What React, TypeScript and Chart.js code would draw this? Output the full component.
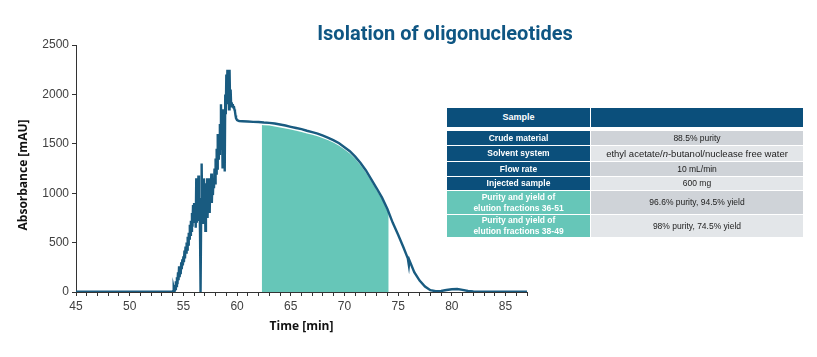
import React, { useEffect, useRef } from "react";
import { Chart, registerables } from "chart.js";

Chart.register(...registerables);

// Time axis (min) and absorbance (mAU) of the chromatogram trace
const timeMin: number[] = [
  45, 46, 47, 48, 49, 50, 51, 52, 53, 53.5, 54.0,
  54.05, 54.10, 54.15, 54.20, 54.25, 54.30, 54.35, 54.40, 54.45, 54.50,
  54.55, 54.60, 54.65, 54.70, 54.75, 54.80, 54.85, 54.90, 54.95, 55.00,
  55.05, 55.10, 55.15, 55.20, 55.25, 55.30, 55.35, 55.40, 55.45, 55.50,
  55.55, 55.60, 55.65, 55.70, 55.75, 55.80, 55.85, 55.90, 55.95, 56.00,
  56.05, 56.10, 56.15, 56.20, 56.25, 56.30, 56.35, 56.40, 56.45, 56.50,
  56.55, 56.60, 56.65, 56.70, 56.75, 56.80, 56.85, 56.90, 56.95, 57.00,
  57.05, 57.10, 57.15, 57.20, 57.25, 57.30, 57.35, 57.40, 57.45, 57.50,
  57.55, 57.60, 57.65, 57.70, 57.75, 57.80, 57.85, 57.90, 57.95, 58.00,
  58.05, 58.10, 58.15, 58.20, 58.25, 58.30, 58.35, 58.40, 58.45, 58.50,
  58.55, 58.60, 58.65, 58.70, 58.75, 58.80, 58.85, 58.90, 58.95, 59.00,
  59.05, 59.10, 59.15, 59.20, 59.25, 59.30, 59.35, 59.40, 59.45, 59.50,
  59.55, 59.60, 59.65, 59.70, 59.75, 59.80, 59.85, 59.90, 59.95, 60.00,
  60.10, 60.20, 60.50, 61.0, 61.5, 62.0, 62.5, 63.0, 63.5, 64.0,
  64.5, 65.0, 65.5, 66.0, 66.5, 67.0, 67.5, 68.0, 68.5, 69.0,
  69.5, 70.0, 70.5, 71.0, 71.5, 72.0, 72.5, 73.0, 73.5, 74.0,
  74.5, 75.0, 75.5, 75.9, 76.0, 76.05, 76.5, 77.0, 77.5, 78.0,
  78.5, 79.0, 79.5, 80.0, 80.5, 81.0, 81.5, 82.0, 83, 84, 85, 86, 87,
];

const absorbance: number[] = [
  4, 4, 4, 4, 4, 4, 4, 4, 4, 4, 5,
  10, 40, 15, 70, 30, 110, 60, 150, 80, 200,
  120, 260, 150, 240, 180, 300, 230, 330, 270, 360,
  300, 420, 340, 460, 400, 500, 430, 560, 480, 600,
  540, 680, 580, 720, 620, 800, 660, 880, 700, 900,
  780, 900, 650, 1150, 700, 1000, 800, 1180, 720, 950,
  600, 0, 700, 1300, 850, 1100, 700, 1150, 800, 1050,
  620, 1100, 850, 1150, 750, 1000, 900, 1150, 800, 1100,
  950, 1200, 900, 1100, 980, 1150, 1050, 1250, 1100, 1350,
  1200, 1450, 1250, 1600, 1350, 1550, 1400, 1700, 1450, 1900,
  1600, 1750, 1250, 1850, 1500, 1700, 1220, 2000, 1800, 2200,
  1950, 2250, 1900, 2150, 1850, 2250, 1900, 2050, 1880, 1920,
  1880, 1900, 1870, 1880, 1850, 1830, 1790, 1760, 1750, 1740,
  1735, 1730, 1728, 1725, 1722, 1720, 1715, 1712, 1705, 1695,
  1685, 1672, 1660, 1648, 1632, 1618, 1603, 1582, 1560, 1535,
  1505, 1465, 1425, 1370, 1305, 1230, 1140, 1050, 955, 840,
  700, 580, 450, 340, 270, 320, 200, 115, 55, 18,
  8, 10, 20, 28, 30, 22, 10, 5, 4, 4, 4, 4, 4,
];

// Collected fraction region (highlighted area)
const fractionTime: number[] = [
  62.3, 62.5, 63.0, 63.5, 64.0, 64.5, 65.0, 65.5, 66.0, 66.5,
  67.0, 67.5, 68.0, 68.5, 69.0, 69.5, 70.0, 70.5, 71.0, 71.5,
  72.0, 72.5, 73.0, 73.5, 74.0, 74.12,
];
const fractionAbs: number[] = [
  1690, 1688, 1684, 1676, 1666, 1656, 1644, 1632, 1620, 1605,
  1591, 1576, 1556, 1535, 1510, 1481, 1442, 1402, 1348, 1283,
  1208, 1120, 1030, 935, 820, 790,
];

const xTickMin = 45;
const xTickMax = 87;
const yTickMax = 2500;
const yTickStep = 500;

const titleText = "Isolation of oligonucleotides";
const xTitle = "Time [min]";
const yTitle = "Absorbance [mAU]";

const tableHeader = ["Sample", ""];
const tableLabels = [
  "Crude material",
  "Solvent system",
  "Flow rate",
  "Injected sample",
  "Purity and yield of\nelution fractions 36-51",
  "Purity and yield of\nelution fractions 38-49",
];
const tableValues = [
  "88.5% purity",
  "ethyl acetate/n-butanol/nuclease free water",
  "10 mL/min",
  "600 mg",
  "96.6% purity, 94.5% yield",
  "98% purity, 74.5% yield",
];

const DARK = "#0b4f7b";
const TEAL = "#66c6b8";

function ChartCanvas() {
  const ref = useRef<HTMLCanvasElement | null>(null);
  useEffect(() => {
    if (!ref.current) return;
    const line = timeMin.map((t, i) => ({ x: t, y: absorbance[i] }));
    const frac = fractionTime.map((t, i) => ({ x: t, y: fractionAbs[i] }));
    const chart = new Chart(ref.current, {
      type: "line",
      data: {
        datasets: [
          {
            data: line,
            borderColor: "#195b80",
            borderWidth: 2.4,
            pointRadius: 0,
            fill: false,
            tension: 0,
            order: 0,
          },
          {
            data: frac,
            borderWidth: 0,
            borderColor: "rgba(0,0,0,0)",
            backgroundColor: TEAL,
            pointRadius: 0,
            fill: "origin",
            tension: 0,
            order: 1,
          },
        ],
      },
      options: {
        animation: false,
        responsive: false,
        maintainAspectRatio: false,
        layout: { padding: { left: 12, right: 290, top: 45, bottom: 19 } },
        plugins: { legend: { display: false }, tooltip: { enabled: false }, title: { display: false } },
        scales: {
          x: {
            type: "linear",
            min: xTickMin,
            max: xTickMax,
            grid: { drawOnChartArea: false, drawTicks: true, tickLength: 4, color: "#333" },
            border: { color: "#333", width: 1 },
            ticks: {
              stepSize: 1,
              autoSkip: false,
              maxRotation: 0,
              color: "#404040",
              font: { family: "Liberation Sans, Arial", size: 12 },
              callback: (v: any) => (Number(v) % 5 === 0 ? String(v) : ""),
            },
            title: {
              display: true,
              text: xTitle,
              color: "#111",
              font: { family: "Open Sans", size: 12, weight: "bold" },
              padding: { top: 4, bottom: 4 },
            },
            afterFit: (s: any) => {
              s.height = 46;
            },
          },
          y: {
            type: "linear",
            min: 0,
            max: yTickMax,
            grid: { drawOnChartArea: false, drawTicks: true, tickLength: 4, color: "#333" },
            border: { color: "#333", width: 1 },
            ticks: {
              stepSize: yTickStep,
              color: "#404040",
              font: { family: "Liberation Sans, Arial", size: 12 },
              callback: (v: any) => String(v),
            },
            title: { display: false },
            afterFit: (s: any) => {
              s.width = 64;
            },
          },
        },
      },
    });
    return () => chart.destroy();
  }, []);
  return <canvas ref={ref} width={817} height={357} style={{ position: "absolute", left: 0, top: 0, width: 817, height: 357 }} />;
}

function InfoTable() {
  const left = 447;
  const leftW = 143;
  const rightX = 591;
  const rightW = 212;
  const headerTop = 108;
  const headerH = 19;
  const rowTops = [131, 146, 162, 177, 191, 215];
  const rowHs = [14, 15, 14, 13, 23, 22];
  const rightBg = ["#cfd3d8", "#e3e6e9", "#cfd3d8", "#e3e6e9", "#cfd3d8", "#e3e6e9"];
  const cell = (x: number, y: number, w: number, h: number, bg: string): React.CSSProperties => ({
    position: "absolute",
    left: x,
    top: y,
    width: w,
    height: h,
    background: bg,
    display: "flex",
    alignItems: "center",
    justifyContent: "center",
    textAlign: "center",
    whiteSpace: "pre",
    lineHeight: "11px",
  });
  return (
    <>
      <div style={{ ...cell(left, headerTop, leftW, headerH, DARK), color: "#fff", fontWeight: 700, fontSize: 9, fontFamily: "Liberation Sans, Arial" }}>
        {tableHeader[0]}
      </div>
      <div style={{ ...cell(rightX, headerTop, rightW, headerH, DARK), color: "#fff" }}>{tableHeader[1]}</div>
      {tableLabels.map((lab, i) => (
        <React.Fragment key={i}>
          <div
            style={{
              ...cell(left, rowTops[i], leftW, rowHs[i], i >= 4 ? TEAL : DARK),
              color: "#fff",
              fontWeight: 700,
              fontSize: 8.5,
              fontFamily: "Liberation Sans, Arial",
            }}
          >
            {lab}
          </div>
          <div
            style={{
              ...cell(rightX, rowTops[i], rightW, rowHs[i], rightBg[i]),
              color: "#222",
              fontSize: i === 1 ? 9.5 : 8.5,
              fontFamily: "Liberation Sans, Arial",
            }}
          >
            {i === 1 ? (
              <span>
                ethyl acetate/<i>n</i>-butanol/nuclease free water
              </span>
            ) : (
              tableValues[i]
            )}
          </div>
        </React.Fragment>
      ))}
    </>
  );
}

export default function App() {
  return (
    <div style={{ position: "fixed", left: 0, top: 0, width: 817, height: 357, background: "#fff", overflow: "hidden" }}>
      <ChartCanvas />
      <div
        style={{
          position: "absolute",
          left: 245,
          width: 400,
          top: 21,
          textAlign: "center",
          fontFamily: "Roboto",
          fontWeight: 700,
          fontSize: 20,
          color: "#0f5683",
          lineHeight: "24px",
        }}
      >
        {titleText}
      </div>
      <div
        style={{
          position: "absolute",
          left: 23 - 80,
          top: 175 - 8,
          width: 160,
          height: 16,
          lineHeight: "16px",
          textAlign: "center",
          transform: "rotate(-90deg)",
          fontFamily: "Open Sans",
          fontWeight: 700,
          fontSize: 12,
          color: "#111",
          whiteSpace: "nowrap",
        }}
      >
        {yTitle}
      </div>
      <InfoTable />
    </div>
  );
}
